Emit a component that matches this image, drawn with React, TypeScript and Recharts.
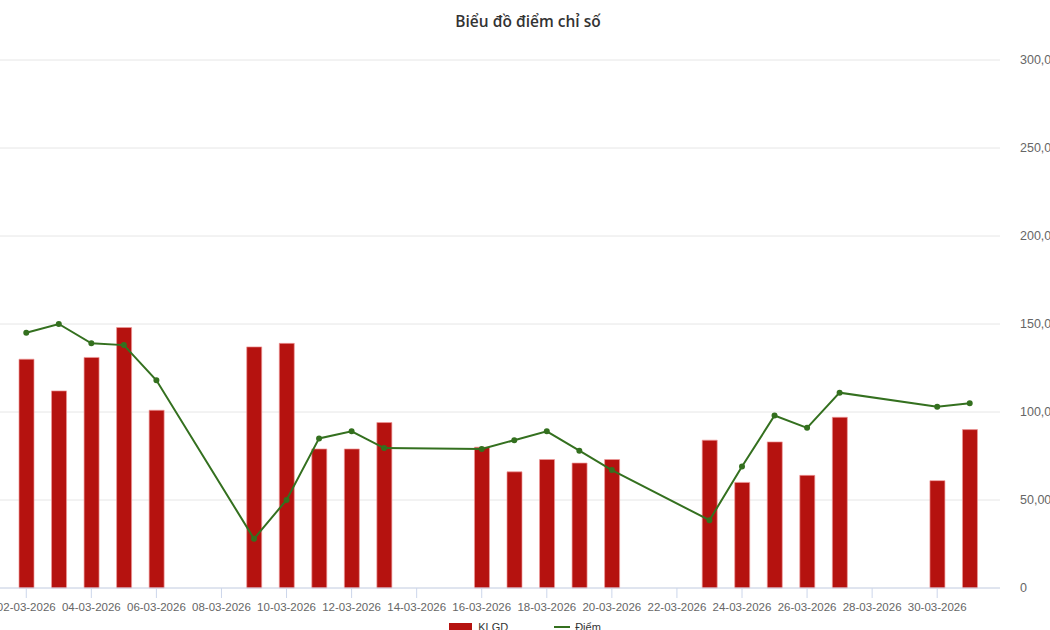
import React from 'react';
import { ComposedChart, Bar, Line, XAxis, YAxis, CartesianGrid, Legend } from 'recharts';

const dates = [
  '02-03-2026', '03-03-2026', '04-03-2026', '05-03-2026', '06-03-2026', '07-03-2026',
  '08-03-2026', '09-03-2026', '10-03-2026', '11-03-2026', '12-03-2026', '13-03-2026',
  '14-03-2026', '15-03-2026', '16-03-2026', '17-03-2026', '18-03-2026', '19-03-2026',
  '20-03-2026', '21-03-2026', '22-03-2026', '23-03-2026', '24-03-2026', '25-03-2026',
  '26-03-2026', '27-03-2026', '28-03-2026', '29-03-2026', '30-03-2026', '31-03-2026',
];

const klgd = [
  130, 112, 131, 148, 101, null, null, 137, 139, 79, 79, 94, null, null, 80,
  66, 73, 71, 73, null, null, 84, 60, 83, 64, 97, null, null, 61, 90,
];

const diem = [
  145, 150, 139, 138, 118, null, null, 28, 50, 85, 89, 79.5, null, null, 79,
  84, 89, 78, 67, null, null, 38.5, 69, 98, 91, 111, null, null, 103, 105,
];

const yTicks = [0, 50, 100, 150, 200, 250, 300];

const seriesNames = { bar: 'KLGD', line: 'Điểm' };
const titleText = 'Biểu đồ điểm chỉ số';

const data = dates.map((d, i) => ({ date: d, klgd: klgd[i], diem: diem[i] }));

const fmtY = (v: number) => (v === 0 ? '0' : v.toFixed(2).replace('.', ','));

const LegendContent = () => (
  <div style={{ height: 32, width: 1050, display: 'flex', justifyContent: 'center', alignItems: 'flex-start', paddingTop: 3, fontFamily: '"Liberation Sans", Arial, sans-serif', fontSize: 11, color: '#333', boxSizing: 'border-box' }}>
    <div style={{ display: 'flex', alignItems: 'center', marginRight: 46 }}>
      <span style={{ display: 'inline-block', width: 23, height: 9, background: '#b5120f', marginRight: 6 }} />
      <span>{seriesNames.bar}</span>
    </div>
    <div style={{ display: 'flex', alignItems: 'center' }}>
      <span style={{ display: 'inline-block', width: 16, height: 2, background: '#34701f', marginRight: 5 }} />
      <span>{seriesNames.line}</span>
    </div>
  </div>
);

export default function App() {
  return (
    <div style={{ position: 'fixed', left: 0, top: 0, width: 1050, height: 630, overflow: 'hidden', background: '#fff' }}>
      <div style={{ position: 'absolute', left: 0, top: 10, width: 1056, textAlign: 'center', fontFamily: '"Open Sans", sans-serif', fontWeight: 600, fontSize: 15.5, color: '#333' }}>
        {titleText}
      </div>
      <ComposedChart width={1100} height={650} data={data} margin={{ top: 60, right: 0, left: 0, bottom: 0 }}>
        <CartesianGrid vertical={false} stroke="#e6e6e6" />
        <XAxis
          dataKey="date"
          interval={1}
          padding={{ left: 10, right: 14 }}
          height={30}
          tickSize={10}
          tickMargin={5}
          stroke="#ccd6eb"
          tick={{ fill: '#666', fontSize: 11.5, fontFamily: '"Liberation Sans", Arial, sans-serif' }}
        />
        <YAxis
          orientation="right"
          width={100}
          domain={[0, 300]}
          ticks={yTicks}
          tickFormatter={fmtY}
          axisLine={false}
          tickLine={false}
          tick={{ fill: '#666', fontSize: 12.5, fontFamily: '"Liberation Sans", Arial, sans-serif', dx: 12 }}
        />
        <Legend verticalAlign="bottom" height={32} wrapperStyle={{ left: 0, width: 1050 }} content={<LegendContent />} />
        <Bar dataKey="klgd" name={seriesNames.bar} fill="#b5120f" stroke="#ef9a9a" strokeWidth={0.7} barSize={15} isAnimationActive={false} />
        <Line dataKey="diem" name={seriesNames.line} type="linear" stroke="#34701f" strokeWidth={2} dot={{ r: 2, fill: '#34701f', stroke: '#34701f' }} connectNulls isAnimationActive={false} />
      </ComposedChart>
    </div>
  );
}
